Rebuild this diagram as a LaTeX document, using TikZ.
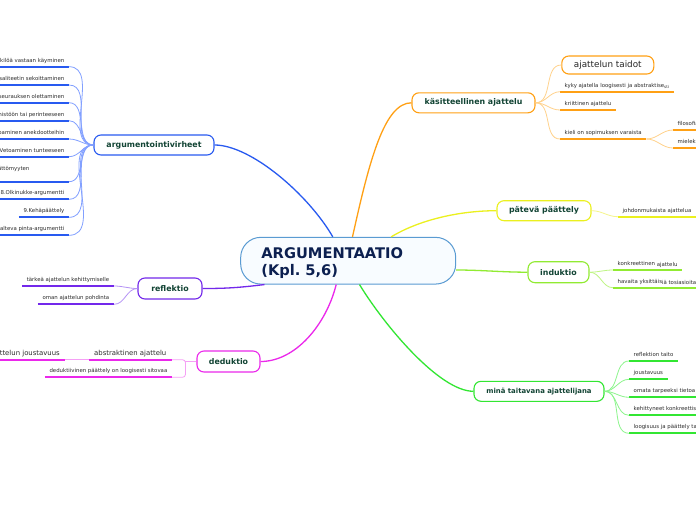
\documentclass[tikz,border=0pt]{standalone}
\usepackage{fontspec}
\setmainfont{DejaVu Sans}
\usetikzlibrary{calc}
\frenchspacing
\definecolor{maintext}{RGB}{18,68,52}
\definecolor{centtext}{RGB}{12,32,80}
\definecolor{leaftext}{RGB}{45,45,45}
\definecolor{cborder}{RGB}{90,155,210}
\definecolor{cfill}{RGB}{248,252,255}
\definecolor{blueD}{RGB}{40,90,240}
\definecolor{blueL}{RGB}{130,160,255}
\definecolor{orangeD}{RGB}{255,160,20}
\definecolor{orangeL}{RGB}{255,210,140}
\definecolor{yellowD}{RGB}{235,240,30}
\definecolor{yellowL}{RGB}{245,245,140}
\definecolor{limeD}{RGB}{145,235,50}
\definecolor{limeL}{RGB}{190,245,130}
\definecolor{greenD}{RGB}{50,230,50}
\definecolor{greenL}{RGB}{140,245,140}
\definecolor{magD}{RGB}{235,40,235}
\definecolor{magL}{RGB}{245,160,245}
\definecolor{violD}{RGB}{115,40,235}
\definecolor{violL}{RGB}{180,145,245}
\begin{document}
\begin{tikzpicture}[x=1pt,y=-1pt,
  main/.style={draw, rounded corners=7pt, line width=1.1pt, fill=white, text=maintext,
    font=\bfseries\fontsize{7.85}{9}\selectfont, minimum height=20pt, inner sep=0pt},
  leaf/.style={font=\fontsize{5.4}{6.5}\selectfont, text=leaftext, inner xsep=4.5pt,
    inner ysep=3pt, text height=4pt, text depth=1.3pt},
  bigleaf/.style={leaf, font=\fontsize{6.9}{8}\selectfont, inner xsep=5.5pt,
    inner ysep=2.3pt, text height=5.2pt, text depth=1.6pt},
  lleaf/.style={leaf, anchor=south east},
  rleaf/.style={leaf, anchor=south west},
  trunk/.style={line width=1.3pt},
  twig/.style={line width=0.8pt},
  ul/.style={line width=1.8pt}]
\useasboundingbox (0,0) rectangle (696,520);
\fill[white] (0,0) rectangle (696,520);
\clip (0,0) rectangle (696,520);

% central node
\node[draw=cborder, fill=cfill, line width=1pt, rounded corners=20pt,
  minimum width=215pt, minimum height=46.7pt, text width=173.6pt, align=left,
  inner xsep=20.7pt, inner ysep=0pt, text height=15pt, text depth=19.8pt,
  font=\bfseries\fontsize{14.65}{17.4}\selectfont, text=centtext]
  (c) at (348.2,260.7) {ARGUMENTAATIO\\(Kpl. 5,6)};

% main nodes
\node[main, draw=blueD, minimum width=120pt] (argv) at (154,145) {argumentointivirheet};
\node[main, draw=orangeD, minimum width=123pt] (kas) at (473.5,102.8) {käsitteellinen ajattelu};
\node[main, draw=yellowD, minimum width=94pt] (pat) at (544,210.7) {pätevä päättely};
\node[main, draw=limeD, minimum width=61pt, minimum height=21pt] (ind) at (558.5,272.2) {induktio};
\node[main, draw=greenD, minimum width=130pt, font=\bfseries\fontsize{6.9}{8}\selectfont] (mina) at (539,391.3) {minä taitavana ajattelijana};
\node[main, draw=magD, minimum width=63pt, minimum height=21pt] (ded) at (228.5,361.5) {deduktio};
\node[main, draw=violD, minimum width=64pt, minimum height=21pt] (ref) at (170,288.5) {reflektio};
\node[main, draw=orangeD, minimum width=92pt, minimum height=18pt,
  font=\fontsize{8.8}{10}\selectfont, text=black!85] (taid) at (607.8,65) {ajattelun taidot};

% trunk connectors
\draw[trunk, blueD] ($(c.north west)+(92.6,0)$) .. controls +(-25,-43) and +(36,0) .. (argv.east);
\draw[trunk, orangeD] ($(c.north west)+(112.3,0)$) .. controls +(17,-77) and +(-27,0) .. (kas.west);
\draw[trunk, yellowD] ($(c.north west)+(151,0)$) .. controls +(28,-17) and +(-37,0) .. (pat.west);
\draw[trunk, limeD] ($(c.east)+(0,9.3)$) .. controls +(25,0) and +(-25,0) .. (ind.west);
\draw[trunk, greenD] ($(c.south west)+(119.3,0)$) .. controls +(25,41) and +(-34,0) .. (mina.west);
\draw[trunk, magD] ($(c.south west)+(96,0)$) .. controls +(-10,40) and +(35,0) .. (ded.east);
\draw[trunk, violD] ($(c.south west)+(24.3,0)$) .. controls +(-25,3) and +(25,0) .. (ref.east);

% argumentointivirheet leaves
\foreach \n/\y/\t in {a1/66.7/{1.Henkilöä vastaan käyminen},
  a2/85/{2.Korrelaation ja kausaliteetin sekoittaminen},
  a3/102.7/{3.Syy-seurauksen olettaminen},
  a4/120.7/{4.Vetoaminen enemmistöön tai perinteeseen},
  a5/139/{5.Vetoaminen anekdootteihin},
  a6/156.7/{6.Vetoaminen tunteeseen},
  a8/199.3/{8.Olkinukke-argumentti},
  a9/217.3/{9.Kehäpäättely},
  a10/235.3/{10.Kalteva pinta-argumentti}} {
  \node[lleaf] (\n) at (69,\y) {\t};
  \draw[ul, blueD] (\n.south west) -- (\n.south east);
  \draw[twig, blueL] (argv.west) to[out=180,in=0] (\n.south east);
}
\node[lleaf, text depth=8.4pt] (a7) at (69,181.7) {\makebox[123pt][l]{7.Vetoaminen tietämättömyyten}};
\draw[ul, blueD] (a7.south west) -- (a7.south east);
\draw[twig, blueL] (argv.west) to[out=180,in=0] (a7.south east);

% reflektio leaves
\foreach \n/\y/\t in {r1/286/{tärkeä ajattelun kehittymiselle}, r2/304.3/{oman ajattelun pohdinta}} {
  \node[lleaf] (\n) at (114,\y) {\t};
  \draw[ul, violD] (\n.south west) -- (\n.south east);
  \draw[twig, violL] (ref.west) to[out=180,in=0] (\n.south east);
}

% deduktio leaves
\node[bigleaf, anchor=south east] (abs) at (172,359.7) {abstraktinen ajattelu};
\node[lleaf] (dps) at (172,377.3) {deduktiivinen päättely on loogisesti sitovaa};
\node[bigleaf, anchor=south east, inner xsep=5pt] (jous) at (65,359.7) {ajattelun joustavuus};
\draw[ul, magD] (abs.south west) -- (abs.south east);
\draw[ul, magD] (dps.south west) -- (dps.south east);
\draw[ul, magD] (jous.south west) -- (jous.south east);
\draw[twig, magL, rounded corners=3pt] (abs.south east) -- ($(abs.south east)+(13.5,0)$) |- (dps.south east);
\draw[twig, magL] (ded.west) -- ++(-11.8,0);
\draw[twig, magL] (jous.south east) -- (abs.south west);

% kasitteellinen leaves
\node[rleaf] (kyky) at (560,91.7) {kyky ajatella loogisesti ja abstraktise\raisebox{-0.8pt}{\fontsize{4}{4}\selectfont sti}};
\node[rleaf] (krit) at (560,110) {kriittinen ajattelu};
\node[rleaf] (kieli) at (560,139) {kieli on sopimuksen varaista};
\node[rleaf] (filo) at (673,130) {filosofiassa};
\node[rleaf] (miel) at (673,148) {mielekieli};
\foreach \n in {kyky,krit,kieli,filo,miel} {
  \draw[ul, orangeD] (\n.south west) -- (\n.south east);
}
\foreach \n in {kyky,krit,kieli} {
  \draw[twig, orangeL] (kas.east) to[out=0,in=180] (\n.south west);
}
\draw[twig, orangeL] (kas.east) to[out=0,in=180] (taid.west);
\draw[twig, orangeL] (kieli.south east) to[out=0,in=180] (filo.south west);
\draw[twig, orangeL] (kieli.south east) to[out=0,in=180] (miel.south west);

% pateva paattely leaf
\node[rleaf] (joh) at (618,216.7) {johdonmukaista \raisebox{-0.7pt}{ajattelua}};
\draw[ul, yellowD] (joh.south west) -- (joh.south east);
\draw[twig, yellowL] (pat.east) to[out=0,in=180] (joh.south west);

% induktio leaves
\node[rleaf] (konk) at (613,270) {konkreettinen \raisebox{-0.8pt}{ajattelu}};
\node[rleaf] (hav) at (613,287.7) {havaita yksittäis\raisebox{-0.8pt}{iä tosiasioita}};
\foreach \n in {konk,hav} {
  \draw[ul, limeD] (\n.south west) -- (\n.south east);
  \draw[twig, limeL] (ind.east) to[out=0,in=180] (\n.south west);
}

% mina leaves
\foreach \n/\y/\t in {m1/361/{reflektion taito}, m2/379.3/{joustavuus},
  m3/397.3/{omata tarpeeksi tietoa}, m4/415.3/{kehittyneet konkreettiset taidot},
  m5/433.3/{loogisuus ja päättely taito}} {
  \node[rleaf] (\n) at (629,\y) {\t};
  \draw[ul, greenD] (\n.south west) -- (\n.south east);
  \draw[twig, greenL] (mina.east) to[out=0,in=180] (\n.south west);
}
\end{tikzpicture}
\end{document}
